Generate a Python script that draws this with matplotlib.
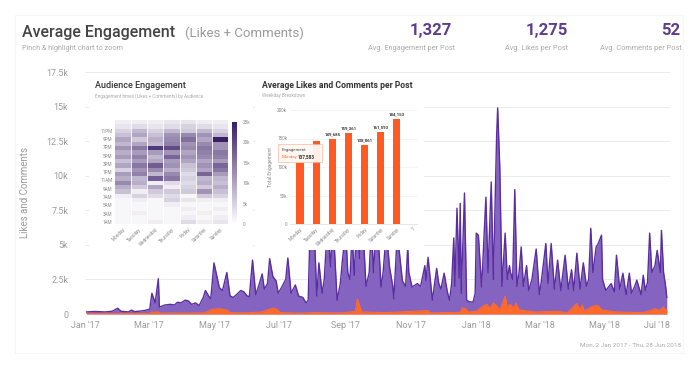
import numpy as np
import pandas as pd
import matplotlib
matplotlib.use("Agg")
import matplotlib.pyplot as plt
import matplotlib.dates as mdates
from matplotlib.patches import Rectangle, FancyBboxPatch
from matplotlib.colors import LinearSegmentedColormap

plt.rcParams['font.family'] = ['Roboto', 'DejaVu Sans']

# daily engagement (days since 1 Jan 2017)
likes_days = [1, 9, 18, 25, 30, 33, 40, 43, 46, 55, 60, 62, 65, 68, 69, 74, 79, 83, 86, 89,
              93, 96, 99, 103, 106, 110, 112, 115, 117, 120, 123, 125, 128, 132, 135, 138, 141, 145, 148, 151,
              153, 156, 159, 162, 165, 167, 170, 172, 175, 178, 180, 183, 187, 189, 192, 194, 196, 199, 203, 206,
              208, 210, 212, 213, 216, 218, 221, 223, 226, 229, 231, 234, 235, 238, 240, 243, 245, 247, 249, 251,
              254, 256, 258, 261, 262, 265, 267, 269, 272, 275, 276, 278, 281, 284, 287, 288, 291, 293, 296, 299,
              301, 302, 305, 310, 313, 317, 318, 320, 324, 328, 330, 332, 335, 338, 340, 342, 344, 345, 347, 349,
              350, 351, 354, 356, 358, 362, 364, 365, 367, 370, 371, 374, 376, 379, 381, 384, 385, 387, 389, 392,
              394, 396, 397, 399, 401, 403, 405, 407, 409, 412, 414, 417, 421, 424, 426, 430, 432, 435, 438, 441,
              444, 448, 451, 454, 456, 459, 462, 465, 468, 470, 472, 474, 477, 479, 482, 483, 486, 491, 494, 496,
              499, 502, 505, 508, 510, 513, 515, 519, 521, 523, 525, 527, 529, 532, 534, 537, 538, 540, 542, 543]
likes_vals = [150, 180, 150, 200, 420, 200, 150, 280, 170, 250, 350, 1500, 800, 2550, 500, 650, 700, 650, 850, 800,
              1000, 950, 700, 800, 600, 1200, 1700, 1300, 1100, 3700, 2600, 1900, 1700, 3000, 1300, 1200, 1400, 1700, 1600, 1300,
              1250, 3900, 1400, 2100, 2900, 1800, 2200, 4000, 2700, 2400, 1500, 1900, 2500, 4050, 1500, 1800, 2100, 1300, 1200, 800,
              1000, 7000, 6000, 7500, 1300, 3700, 1500, 2500, 6500, 3400, 7000, 2500, 1000, 2200, 3900, 6000, 3000, 2500, 5800, 2800,
              7500, 4000, 8000, 3500, 2000, 3000, 6500, 3000, 7000, 3500, 1950, 3000, 6000, 3400, 2000, 1100, 5500, 4600, 2400, 2000,
              4850, 3000, 1950, 2200, 2000, 3500, 2400, 4100, 1000, 3300, 2200, 1800, 2950, 1600, 1000, 2200, 5500, 2000, 7650, 2600,
              8000, 1500, 8750, 1000, 900, 850, 1500, 5850, 5700, 1950, 3500, 8450, 3000, 9550, 2500, 12800, 14900, 10600, 2000, 5850,
              2500, 3500, 3000, 2500, 9000, 2000, 3000, 4850, 2000, 3500, 1700, 2500, 4700, 1400, 2500, 5100, 2200, 5100, 1800, 3900,
              1700, 4250, 1800, 3200, 1700, 4400, 1800, 3700, 2000, 2500, 6200, 3000, 4850, 5100, 5700, 2500, 1700, 2200, 1600, 4250,
              1800, 2950, 1400, 2950, 1500, 2000, 2450, 1400, 2800, 1700, 2300, 5850, 3000, 3500, 4600, 3000, 6050, 3000, 1950, 1200]

comment_days = [1, 60, 62, 68, 70, 110, 115, 118, 125, 132, 135, 150, 165, 170, 175, 178, 182, 200, 215, 240,
                252, 254, 256, 258, 280, 320, 322, 350, 352, 355, 358, 365, 372, 375, 378, 381, 384, 387, 390, 392,
                394, 397, 400, 402, 405, 420, 440, 450, 459, 462, 464, 466, 472, 476, 479, 482, 495, 520, 528, 532,
                536, 540, 543]
comment_vals = [20, 40, 120, 150, 60, 80, 200, 350, 380, 300, 100, 80, 150, 300, 420, 380, 100, 60, 100, 80,
                200, 1100, 600, 150, 100, 250, 80, 120, 450, 400, 150, 200, 600, 700, 400, 800, 600, 300, 900, 1300,
                500, 700, 400, 800, 300, 150, 200, 100, 750, 300, 650, 200, 500, 600, 600, 300, 150, 100, 250, 400,
                250, 500, 200]

y_ticks = [0, 2500, 5000, 7500, 10000, 12500, 15000, 17500]
y_labels = ['0', '2.5k', '5k', '7.5k', '10k', '12.5k', '15k', '17.5k']

# heatmap: thousands, rows from top of grid down, columns Monday..Sunday
weekdays = ['Monday', 'Tuesday', 'Wednesday', 'Thursday', 'Friday', 'Saturday', 'Sunday']
hour_labels = ['11PM', '9PM', '7PM', '5PM', '3PM', '1PM', '11AM', '9AM', '7AM', '5AM', '3AM', '1AM']
heat_rows = [
    [2, 2, 2, 3, 3, 2, 2],
    [3, 4, 3, 4, 5, 4, 3],
    [5, 8, 5, 8, 6, 8, 5],
    [7, 10, 7, 12, 13, 12, 8],
    [10, 6, 9, 13, 16, 10, 25],
    [8, 10, 8, 14, 12, 13, 12],
    [12, 15, 22, 20, 13, 15, 12],
    [9, 11, 11, 12, 10, 14, 15],
    [11, 14, 8, 17, 12, 13, 14],
    [7, 11, 10, 11, 10, 10, 11],
    [10, 15, 18, 12, 7, 12, 17],
    [5, 12, 13, 9, 6, 10, 15],
    [11, 14, 8, 13, 4, 17, 11],
    [9, 8, 18, 15, 5, 8, 8],
    [13, 9, 2, 4, 4, 9, 7],
    [9, 6, 10, 2, 5, 6, 9],
    [7, 2, 6, 6, 6, 12, 7],
    [2, 5, 4, 4, 1, 6, 5],
    [1, 2, 1, 5, 3, 2, 2],
    [1, 1, 1, 2, 1, 1, 1],
    [1, 1, 1, 1, 2, 1, 2],
    [1, 2, 1, 1, 1, 2, 1],
    [1, 1, 1, 1, 2, 1, 2],
    [1, 1, 2, 1, 4, 2, 3],
]
cbar_ticks = [0, 5, 10, 15, 20, 25]
cbar_labels = ['0', '5k', '10k', '15k', '20k', '25k']

# weekday breakdown
bar_cats = weekdays + ['7']
bar_values = [107600, 145500, 149685, 159361, 138861, 161593, 184153]
bar_shown = [False, False, True, True, True, True, True]
bar_ticks = [0, 50000, 100000, 150000, 200000]
bar_tick_labels = ['0', '50k', '100k', '150k', '200k']

W, H = 700, 372
def fx(px):
    return px / W
def fy(py):
    return 1 - py / H

PURPLE = '#8464c0'
PURPLE_LINE = '#5a2ea0'
ORANGE = '#ff6a2b'
GRAY = '#9a9a9a'

fig = plt.figure(figsize=(7, 3.72), dpi=100)

# faint card outline
fig.patches.append(Rectangle((fx(15), fy(353)), fx(683) - fx(15), fy(15) - fy(353),
                             transform=fig.transFigure, fill=False, edgecolor='#f7f7f7', lw=0.8, zorder=0))

# ---- main area chart
ax = fig.add_axes([fx(85), fy(314), fx(670) - fx(85), fy(72) - fy(314)])
ax.set_zorder(0)
start = pd.Timestamp('2017-01-01')
ld = start + pd.to_timedelta(likes_days, unit='D')
cd = start + pd.to_timedelta(comment_days, unit='D')
ax.fill_between(ld, likes_vals, color=PURPLE, lw=0)
ax.plot(ld, likes_vals, color=PURPLE_LINE, lw=1.0)
ax.fill_between(cd, comment_vals, color=ORANGE, lw=0)
ax.plot(cd, comment_vals, color=ORANGE, lw=0.8)

ax.set_xlim(start - pd.Timedelta(hours=12), start + pd.Timedelta(days=546))
ax.set_ylim(0, 17500)
ax.set_yticks(y_ticks)
ax.set_yticklabels(y_labels)
ax.xaxis.set_major_locator(mdates.MonthLocator(bymonth=[1, 3, 5, 7, 9, 11]))
ax.xaxis.set_major_formatter(mdates.DateFormatter("%b '%y"))
ax.grid(axis='y', color='#ebebeb', lw=0.7)
ax.set_axisbelow(True)
for s in ax.spines.values():
    s.set_visible(False)
ax.tick_params(axis='both', length=0, labelsize=6.5, colors=GRAY, pad=5)
ax.tick_params(axis='y', pad=12)
fig.canvas.draw()
ax.get_xticklabels()[-1].set_horizontalalignment('right')
ax.set_ylabel('Likes and Comments', fontsize=7, color=GRAY, labelpad=12)

# ---- white inset panels
fig.patches.append(Rectangle((fx(89), fy(246)), fx(253) - fx(89), fy(74) - fy(246),
                             transform=fig.transFigure, facecolor='white', edgecolor='none', zorder=1))
fig.patches.append(Rectangle((fx(255), fy(250)), fx(424) - fx(255), fy(74) - fy(250),
                             transform=fig.transFigure, facecolor='white', edgecolor='none', zorder=1))

# ---- heatmap inset
cmap = LinearSegmentedColormap.from_list('eng', ['#ffffff', '#3a1e66'])
hax = fig.add_axes([fx(115), fy(224), fx(228) - fx(115), fy(120) - fy(224)])
hax.set_zorder(2)
data = np.array(heat_rows)
mesh = hax.pcolormesh(data[::-1], cmap=cmap, vmin=0, vmax=25, edgecolors='none')
for c in range(1, len(weekdays)):
    hax.axvline(c, color='white', lw=0.6)
hax.set_xlim(0, len(weekdays))
hax.set_ylim(0, len(heat_rows))
hax.set_yticks(np.linspace(len(heat_rows) - 2.5, 0.5, len(hour_labels)))
hax.set_yticklabels(hour_labels)
hax.set_xticks(np.arange(len(weekdays)) + 0.5)
hax.set_xticklabels(weekdays, rotation=45, ha='right', rotation_mode='anchor')
hax.tick_params(length=0, labelsize=3.3, colors='#888888', pad=2)
for s in hax.spines.values():
    s.set_visible(False)

cax = fig.add_axes([fx(232), fy(224), fx(237) - fx(232), fy(122) - fy(224)])
cax.set_zorder(2)
cb = fig.colorbar(mesh, cax=cax)
cb.outline.set_visible(False)
cb.set_ticks(cbar_ticks)
cb.set_ticklabels(cbar_labels)
cax.tick_params(length=0, labelsize=3.3, colors='#888888', pad=4)

fig.text(fx(95), fy(85), 'Audience Engagement', fontsize=6.5, fontweight='medium',
         color='#333333', va='center', zorder=3)
fig.text(fx(95), fy(96), 'Engagement times (Likes + Comments) by Audience', fontsize=3.3,
         color='#aaaaaa', va='center', zorder=3)

# ---- bar inset
bax = fig.add_axes([fx(290), fy(224), fx(417) - fx(290), fy(110) - fy(224)])
bax.set_zorder(2)
xpos = np.arange(len(bar_values))
bax.bar(xpos, bar_values, width=0.45, color='#ff5a24', zorder=2)
for i, v in enumerate(bar_values):
    if bar_shown[i]:
        bax.text(i, v + 3000, f'{v:,}', ha='center', va='bottom', fontsize=3.2,
                 fontweight='bold', color='#333333')
bax.set_xlim(-0.62, len(bar_cats) - 0.75)
bax.set_ylim(0, 200000)
bax.set_yticks(bar_ticks)
bax.set_yticklabels(bar_tick_labels)
bax.set_xticks(np.arange(len(bar_cats)))
bax.set_xticklabels(bar_cats, rotation=45, ha='right', rotation_mode='anchor')
bax.grid(axis='y', color='#eeeeee', lw=0.5)
bax.set_axisbelow(True)
for s in ['top', 'right', 'left']:
    bax.spines[s].set_visible(False)
bax.spines['bottom'].set_color('#dddddd')
bax.spines['bottom'].set_linewidth(0.5)
bax.tick_params(length=0, labelsize=3.3, colors='#888888', pad=2)
bax.set_ylabel('Total Engagement', fontsize=3.5, color='#888888', labelpad=3)

fig.text(fx(262), fy(85), 'Average Likes and Comments per Post', fontsize=6.2, fontweight='bold',
         color='#333333', va='center', zorder=3)
fig.text(fx(262), fy(96), 'Weekday Breakdown', fontsize=3.3, color='#aaaaaa', va='center', zorder=3)

# tooltip
tip = FancyBboxPatch((fx(279), fy(162)), fx(322) - fx(279), fy(145) - fy(162),
                     boxstyle='round,pad=0.001', transform=fig.transFigure,
                     facecolor='#fff7f2', edgecolor='#f6b79a', lw=0.5, alpha=0.95, zorder=4)
fig.patches.append(tip)
fig.text(fx(282), fy(149.5), 'Engagement', fontsize=3.2, color='#444444', va='center', zorder=5)
fig.text(fx(282), fy(157), 'Monday:', fontsize=3.2, color='#ff6a2b', va='center', zorder=5)
fig.text(fx(298), fy(157), '137,583', fontsize=3.3, fontweight='bold', color='#333333', va='center', zorder=5)

# ---- header
fig.text(fx(22), fy(37), 'Average Engagement', fontsize=11.5, fontweight='medium', color='#444444',
         va='baseline')
fig.text(fx(185), fy(37), '(Likes + Comments)', fontsize=9.5, color='#9a9a9a', va='baseline')
fig.text(fx(22), fy(48), 'Pinch & highlight chart to zoom', fontsize=5.2, color='#aaaaaa', va='center')

stats = [('1,327', 'Avg. Engagement per Post', 452, 455),
         ('1,275', 'Avg. Likes per Post', 568, 568),
         ('52', 'Avg. Comments per Post', 680, 682)]
for num, cap, xn, xc in stats:
    fig.text(fx(xn), fy(35), num, fontsize=12, fontweight='bold', color='#5e3d8f',
             ha='right', va='baseline')
    fig.text(fx(xc), fy(48), cap, fontsize=5.3, color='#aaaaaa', ha='right', va='center')

fig.text(fx(681), fy(345), 'Mon, 2 Jan 2017 - Thu, 28 Jun 2018', fontsize=4.6, color='#aaaaaa',
         ha='right', va='center')

fig.savefig('out.png', dpi=100, facecolor='white')
